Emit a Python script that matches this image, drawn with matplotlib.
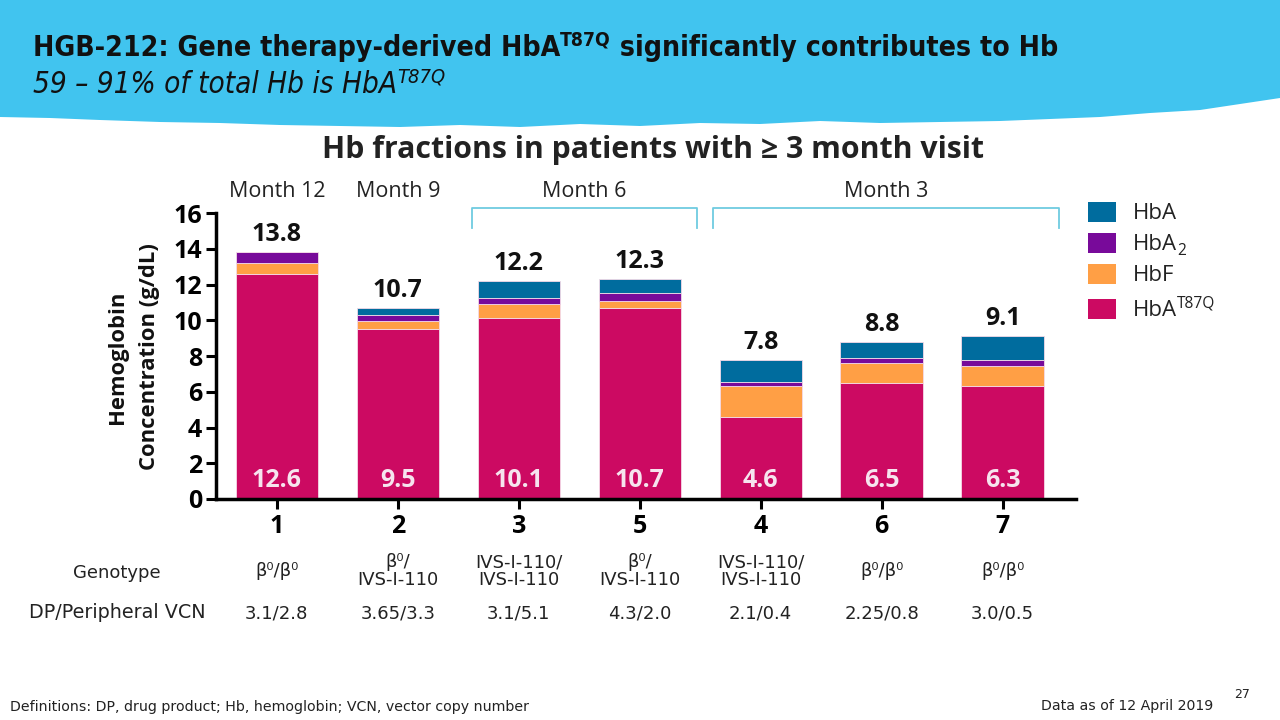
import matplotlib
matplotlib.use('Agg')
import matplotlib.pyplot as plt
from matplotlib import font_manager
from matplotlib.patches import Polygon, Rectangle

# ---------------- data ----------------
patients = ['1', '2', '3', '5', '4', '6', '7']
hba_t87q = [12.6, 9.5, 10.1, 10.7, 4.6, 6.5, 6.3]
hbf = [0.6, 0.45, 0.8, 0.4, 1.7, 1.1, 1.15]
hba2 = [0.6, 0.35, 0.35, 0.4, 0.25, 0.3, 0.3]
hba = [0.0, 0.4, 0.95, 0.8, 1.25, 0.9, 1.35]
totals = [13.8, 10.7, 12.2, 12.3, 7.8, 8.8, 9.1]
genotypes = ['β⁰/β⁰', 'β⁰/\nIVS-I-110', 'IVS-I-110/\nIVS-I-110', 'β⁰/\nIVS-I-110',
             'IVS-I-110/\nIVS-I-110', 'β⁰/β⁰', 'β⁰/β⁰']
vcn = ['3.1/2.8', '3.65/3.3', '3.1/5.1', '4.3/2.0', '2.1/0.4', '2.25/0.8', '3.0/0.5']
months = ['Month 12', 'Month 9', 'Month 6', 'Month 3']
month_groups = [(0, 0), (1, 1), (2, 3), (4, 6)]
yticks = [0, 2, 4, 6, 8, 10, 12, 14, 16]

# ---------------- style ----------------
C_HBA = '#006C9E'
C_HBA2 = '#780A9A'
C_HBF = '#FF9F45'
C_T87Q = '#CC0A62'
C_BANNER = '#41C4EF'
C_BRACKET = '#6FCBE0'

def have(name):
    try:
        font_manager.findfont(font_manager.FontProperties(family=name), fallback_to_default=False)
        return True
    except Exception:
        return False

NARROW = 'Liberation Sans Narrow' if have('Liberation Sans Narrow') else 'DejaVu Sans'
MAIN = 'Open Sans' if have('Open Sans') else 'DejaVu Sans'
NARROW_F = [NARROW, 'DejaVu Sans']
MAIN_F = [MAIN, 'DejaVu Sans']

W, H = 1280, 720
fig = plt.figure(figsize=(12.8, 7.2), dpi=100)
fig.patch.set_facecolor('white')

def P(x, y):
    return (x / W, 1 - y / H)

# banner
bottom_edge = [(1280, 98), (1240, 104), (1200, 110), (1150, 113), (1100, 117), (1050, 119),
               (1000, 121), (940, 122), (880, 123), (820, 121), (760, 124), (700, 123),
               (640, 126), (580, 124), (520, 127), (460, 125), (400, 127), (340, 126),
               (280, 125), (220, 123), (160, 122), (100, 120), (50, 118), (0, 117)]
pts = [P(0, 0), P(1280, 0)] + [P(x, y) for x, y in bottom_edge]
fig.patches.append(Polygon(pts, closed=True, transform=fig.transFigure,
                           facecolor=C_BANNER, edgecolor='none', zorder=0))

renderer = fig.canvas.get_renderer()

def rich(x, y, pieces, size, family, target=None, **kw):
    def draw(sz):
        cx = x
        texts = []
        for s, scale, dy in pieces:
            xx, yy = P(cx, y - dy * sz / size)
            t = fig.text(xx, yy, s, fontsize=sz * scale, family=family,
                         ha='left', va='baseline', **kw)
            bb = t.get_window_extent(renderer=renderer)
            cx += bb.width
            texts.append(t)
        return texts, cx
    texts, end = draw(size)
    if target is not None:
        f = target / (end - x)
        for t in texts:
            t.remove()
        texts, end = draw(size * f)
    return end

# title & subtitle (fitted to reference width)
rich(33, 56, [('HGB-212: Gene therapy-derived HbA', 1, 0), ('T87Q', 0.68, 11),
              (' significantly contributes to Hb', 1, 0)], 22, NARROW_F, target=1020,
     fontweight='bold', color='#111111', fontstretch='condensed')
rich(33, 93, [('59 – 91% of total Hb is HbA', 1, 0), ('T87Q', 0.68, 10)], 21, NARROW_F,
     target=412, style='italic', color='#111111', fontstretch='condensed')

# chart title
fig.text(*P(653, 150), 'Hb fractions in patients with ≥ 3 month visit', fontsize=21.8,
         fontweight='bold', family=MAIN_F, ha='center', va='center', color='#222222')

# ---------------- axes ----------------
ax_left, ax_right, ax_top, ax_bot = 216, 1076, 213, 499
ax = fig.add_axes([ax_left / W, 1 - ax_bot / H, (ax_right - ax_left) / W, (ax_bot - ax_top) / H])
ax.set_facecolor('none')
x = list(range(len(patients)))
bw = 0.68
kw = dict(width=bw, edgecolor='#f4d9e8', linewidth=0.6)
ax.bar(x, hba_t87q, color=C_T87Q, **kw)
bottom = list(hba_t87q)
ax.bar(x, hbf, bottom=bottom, color=C_HBF, **kw)
bottom = [a + b for a, b in zip(bottom, hbf)]
ax.bar(x, hba2, bottom=bottom, color=C_HBA2, **kw)
bottom = [a + b for a, b in zip(bottom, hba2)]
ax.bar(x, hba, bottom=bottom, color=C_HBA, **kw)

ax.set_xlim(-0.503, 6.607)
ax.set_ylim(0, 16)
ax.set_yticks(yticks)
ax.set_xticks(x)
ax.set_xticklabels(patients)
for s in ['top', 'right']:
    ax.spines[s].set_visible(False)
for s in ['left', 'bottom']:
    ax.spines[s].set_linewidth(2.5)
    ax.spines[s].set_color('black')
ax.tick_params(axis='both', direction='out', length=7, width=2.2, color='black')
ax.tick_params(axis='y', pad=3)
ax.tick_params(axis='x', pad=4)
for lab in ax.get_yticklabels() + ax.get_xticklabels():
    lab.set_fontsize(18)
    lab.set_fontweight('bold')
    lab.set_family(MAIN_F)

for xi, tot, low in zip(x, totals, hba_t87q):
    ax.text(xi, tot + 0.28, f'{tot:.1f}', ha='center', va='bottom', fontsize=18,
            fontweight='bold', family=MAIN_F, color='#111111')
    ax.text(xi, 1.05, f'{low:.1f}', ha='center', va='center', fontsize=18,
            fontweight='bold', family=MAIN_F, color='#F6E4EE')

# month labels and brackets
for name, (a, b) in zip(months, month_groups):
    if a == b:
        cx = a
    else:
        lo, hi = a - 0.39, b + 0.47
        cx = (lo + hi) / 2
        ax.plot([lo, lo, hi, hi], [15.15, 16.3, 16.3, 15.15], color=C_BRACKET, lw=1.3,
                clip_on=False, solid_joinstyle='round')
    ax.text(cx, 17.2, name, ha='center', va='center', fontsize=15.5, family=MAIN_F,
            color='#222222', clip_on=False)

# y label
fig.text(*P(118, 357), 'Hemoglobin', rotation=90, fontsize=15.8, fontweight='bold',
         family=MAIN_F, ha='center', va='center', color='#111111')
fig.text(*P(150, 357), 'Concentration (g/dL)', rotation=90, fontsize=15.8, fontweight='bold',
         family=MAIN_F, ha='center', va='center', color='#111111')

# legend
leg_items = [([('HbA', 1, 0)], C_HBA, 212),
             ([('HbA', 1, 0), ('2', 0.7, -5)], C_HBA2, 243),
             ([('HbF', 1, 0)], C_HBF, 274),
             ([('HbA', 1, 0), ('T87Q', 0.7, 9)], C_T87Q, 309)]
for pieces, col, yc in leg_items:
    fig.patches.append(Rectangle(P(1088, yc + 10), 28 / W, 20 / H, transform=fig.transFigure,
                                 facecolor=col, edgecolor='none'))
    rich(1133, yc + 7, pieces, 16, MAIN_F, color='#222222')

# table rows
fig.text(*P(117, 573), 'Genotype', fontsize=13, family=NARROW_F, ha='center', va='center',
         color='#222222')
fig.text(*P(117, 613), 'DP/Peripheral VCN', fontsize=13.8, family=NARROW_F, ha='center',
         va='center', color='#222222')
for xi, g, v in zip(x, genotypes, vcn):
    px_x = ax.transData.transform((xi, 0))[0]
    fig.text(px_x / W, 1 - 571 / H, g, fontsize=13, family=NARROW_F, ha='center',
             va='center', linespacing=0.95, color='#222222')
    fig.text(px_x / W, 1 - 613 / H, v, fontsize=13, family=NARROW_F, ha='center',
             va='center', color='#222222')

# footer
fig.text(*P(10, 707), 'Definitions: DP, drug product; Hb, hemoglobin; VCN, vector copy number',
         fontsize=10.2, family=NARROW_F, ha='left', va='center', color='#222222')
fig.text(*P(1213, 706), 'Data as of 12 April 2019', fontsize=10.2, family=NARROW_F,
         ha='right', va='center', color='#222222')
fig.text(*P(1242, 695), '27', fontsize=9, family=NARROW_F, ha='center', va='center',
         color='#222222')

fig.savefig('out.png', dpi=100)
